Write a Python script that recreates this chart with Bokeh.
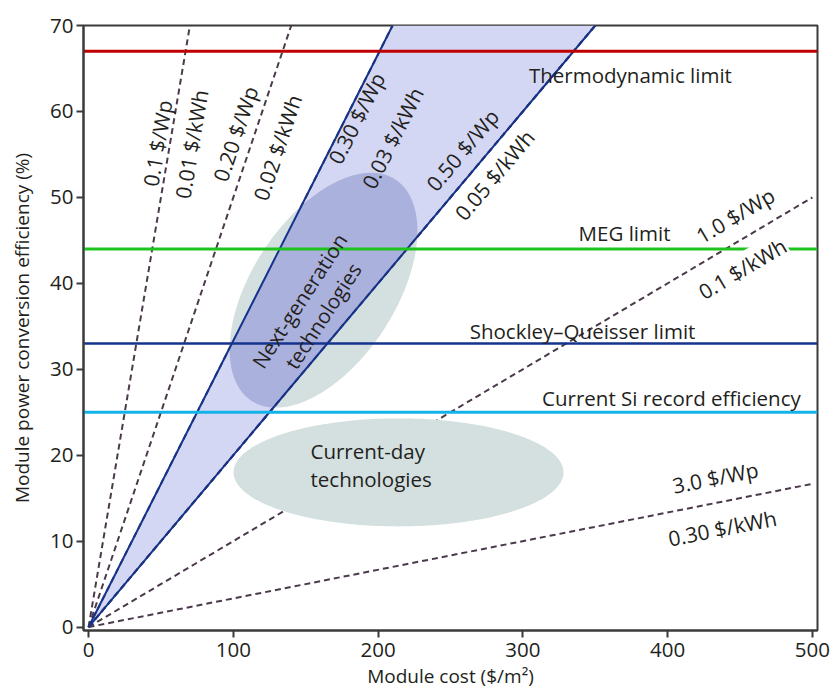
import math
import numpy as np
from bokeh.plotting import figure
from bokeh.models import Range1d
from bokeh.core.properties import value
from bokeh.embed import file_html
from bokeh.resources import INLINE

# ---------------- data ----------------
price_wp = [0.1, 0.2, 0.3, 0.5, 1.0, 3.0]            # module price, $/Wp
wp_labels = ["0.1 $/Wp", "0.20 $/Wp", "0.30 $/Wp", "0.50 $/Wp", "1.0 $/Wp", "3.0 $/Wp"]
kwh_labels = ["0.01 $/kWh", "0.02 $/kWh", "0.03 $/kWh", "0.05 $/kWh", "0.1 $/kWh", "0.30 $/kWh"]
band_prices = [0.3, 0.5]                              # shaded band edges, $/Wp

limit_names = ["Thermodynamic limit", "MEG limit", "Shockley\u2013Queisser limit", "Current Si record efficiency"]
limit_values = [67, 44, 33, 25]

x_ticks = [0, 100, 200, 300, 400, 500]
y_ticks = [0, 10, 20, 30, 40, 50, 60, 70]

# regions (centre cost, centre efficiency)
nextgen_center = [162.3, 39.2]
current_center = [214.1, 18.0]

# ---------------- layout / style ----------------
X0, X1, Y0, Y1 = -3.5, 503.5, -0.4, 70.0
W, H = 833, 695
BL, BR, BT, BB = 83, 16, 25, 65
sx = (W - BL - BR) / (X1 - X0)
sy = (H - BT - BB) / (Y1 - Y0)

FONT_NAME = "Open Sans"
FONT = value(FONT_NAME)
TXT = "#231f20"
limit_colors = ["#c00000", "#1ec31e", "#14338c", "#13b3ea"]
limit_widths = [3, 3, 2.5, 3]
DASH_C = "#4b3a4b"
NAVY = "#14338c"


def eff(cost, price):
    # efficiency (%) = cost / (price * 1000 W/m2) * 100
    return np.asarray(cost, dtype=float) / (10.0 * price)


def line_end(price):
    x = min(X1 - 3.5, Y1 * 10.0 * price)
    return x, float(eff(x, price))


def screen_angle(price):
    return math.atan((1.0 / (10.0 * price)) * sy / sx)


def ellipse_poly(c, a, b, theta_deg, n=240):
    th = math.radians(theta_deg)
    t = np.linspace(0, 2 * np.pi, n, endpoint=False)
    dx = a * np.cos(t) * math.cos(th) - b * np.sin(t) * math.sin(th)
    dy = a * np.cos(t) * math.sin(th) + b * np.sin(t) * math.cos(th)
    return list(c[0] + dx / sx), list(c[1] + dy / sy)


def clip(xs, ys, f):
    pts = list(zip(xs, ys))
    out = []
    for i in range(len(pts)):
        p_, q = pts[i], pts[(i + 1) % len(pts)]
        fp, fq = f(*p_), f(*q)
        if fp >= 0:
            out.append(p_)
        if (fp >= 0) != (fq >= 0):
            t = fp / (fp - fq)
            out.append((p_[0] + t * (q[0] - p_[0]), p_[1] + t * (q[1] - p_[1])))
    return [o[0] for o in out], [o[1] for o in out]


p = figure(width=W, height=H, x_range=Range1d(X0, X1), y_range=Range1d(Y0, Y1),
           output_backend="svg", toolbar_location=None,
           min_border_left=BL, min_border_right=BR, min_border_top=BT, min_border_bottom=BB)
p.xgrid.visible = False
p.ygrid.visible = False
p.outline_line_color = "#3a3a3a"
p.outline_line_width = 2
p.background_fill_color = "white"
p.border_fill_color = "white"

# shaded band between 0.30 and 0.50 $/Wp
lo, hi = band_prices
xb_hi = Y1 * 10 * lo
xb_lo = Y1 * 10 * hi
p.patch([0, xb_hi, xb_lo], [0, Y1, Y1], fill_color="#d4d7f4", line_color=None)

# dashed price lines
for pr in price_wp:
    xe, ye = line_end(pr)
    p.line([0, xe], [0, ye], line_color=DASH_C, line_width=2, line_dash="6 4")

# technology regions
ex, ey = ellipse_poly(nextgen_center, 132, 72, 57)
p.patch(ex, ey, fill_color="#d3e0df", line_color=None)
cx, cy = ellipse_poly(current_center, 165, 54, 0)
p.patch(cx, cy, fill_color="#d3e0df", line_color=None)
ox, oy = clip(ex, ey, lambda x, y: x / (10 * lo) - y)
ox, oy = clip(ox, oy, lambda x, y: y - x / (10 * hi))
p.patch(ox, oy, fill_color="#abb1dd", line_color=None)

# dashed overlay along 0.50 line, then solid band edges
xe, ye = line_end(hi)
p.line([0, xe], [0, ye], line_color=DASH_C, line_width=2, line_dash="6 4")
for pr in band_prices:
    xe, ye = line_end(pr)
    p.line([0, xe], [0, ye], line_color=NAVY, line_width=2)

# horizontal limits
for v, c, w in zip(limit_values, limit_colors, limit_widths):
    p.line([X0, X1], [v, v], line_color=c, line_width=w)

# ---------------- labels ----------------
# (cost, efficiency) anchor of each price label
wp_pos = [(47.7, 56.3), (101.5, 57.4), (185.1, 59.2), (258.3, 55.5), (446.8, 47.9), (433.0, 17.4)]
kwh_pos = [(71.1, 56.2), (130.5, 55.8), (210.0, 56.9), (280.4, 52.6), (451.7, 41.7), (437.8, 11.5)]
boxed = "0.1 $/kWh"   # this label sits on a white box that breaks the MEG line
for pr, t1, t2, p1, p2 in zip(price_wp, wp_labels, kwh_labels, wp_pos, kwh_pos):
    ang = screen_angle(pr)
    p.text(x=[p1[0]], y=[p1[1]], text=[t1], angle=ang,
           text_align="center", text_baseline="middle", text_font=FONT,
           text_font_size="21px", text_color=TXT)
    extra = {}
    if t2 == boxed:
        extra = dict(background_fill_color="white", padding=1)
    p.text(x=[p2[0]], y=[p2[1]], text=[t2], angle=ang,
           text_align="center", text_baseline="middle", text_font=FONT,
           text_font_size="21px", text_color=TXT, **extra)

limit_pos = [(374.3, 64.2), (370.2, 45.9), (341.2, 34.5), (402.6, 26.6)]
p.text(x=[q[0] for q in limit_pos], y=[q[1] for q in limit_pos], text=limit_names,
       text_align="center", text_baseline="middle", text_font=FONT,
       text_font_size="20.5px", text_color=TXT)

p.text(x=[153.7], y=[37.1], text=["Next-generation\ntechnologies"], angle=math.radians(57),
       text_align="center", text_baseline="middle", text_font=FONT,
       text_font_size="20.5px", text_color=TXT, text_line_height=1.0)
p.text(x=[153.3], y=[18.85], text=["Current-day\ntechnologies"],
       text_align="left", text_baseline="middle", text_font=FONT,
       text_font_size="20.5px", text_color=TXT, text_line_height=1.0)

# ---------------- axes ----------------
for ax in (p.xaxis, p.yaxis):
    ax.axis_line_width = 2
    ax.axis_line_color = "#3a3a3a"
    ax.major_tick_line_width = 2
    ax.major_tick_line_color = "#3a3a3a"
    ax.major_tick_out = 7
    ax.major_tick_in = 0
    ax.minor_tick_line_color = None
    ax.major_label_text_font = FONT_NAME
    ax.major_label_text_font_size = "20.5px"
    ax.major_label_text_color = TXT
    ax.axis_label_text_font = FONT_NAME
    ax.axis_label_text_font_size = "19px"
    ax.axis_label_text_font_style = "normal"
    ax.axis_label_text_color = TXT
p.xaxis.ticker = x_ticks
p.yaxis.ticker = y_ticks
p.xaxis.axis_label = "Module cost ($/m\u00b2)"
p.yaxis.axis_label = "Module power conversion efficiency (%)"
p.xaxis.major_label_standoff = 5
p.yaxis.major_label_standoff = 3
p.xaxis.axis_label_standoff = 3
p.yaxis.axis_label_standoff = 12

open("out.html", "w").write(file_html(p, INLINE))
